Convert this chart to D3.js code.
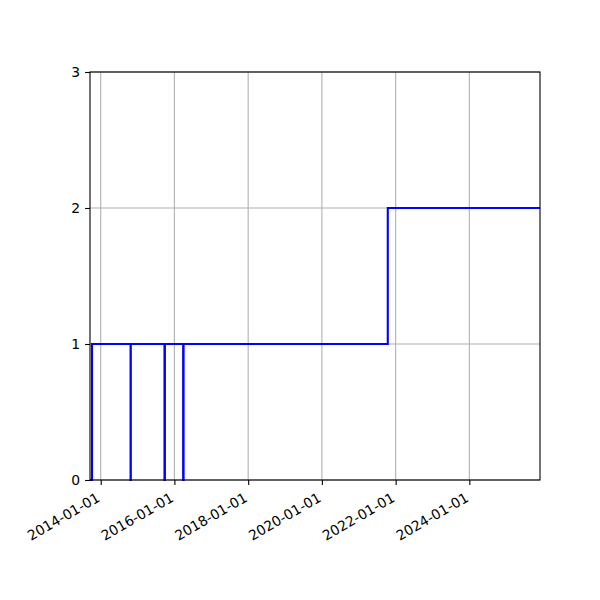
<!DOCTYPE html>
<html>
<head>
<meta charset="utf-8">
<script src="https://cdn.jsdelivr.net/npm/d3@7"></script>
<style>
  body { margin: 0; background: #fff; }
  text { font-family: "DejaVu Sans", sans-serif; }
</style>
</head>
<body>
<div id="chart"></div>
<script>
// step series (steps-post)
const dates = ['2013-09-17', '2013-10-07', '2014-10-24', '2014-10-26', '2015-09-25', '2015-09-29',
  '2016-03-28', '2016-04-01', '2021-10-15', '2025-12-01'];
const values = [0, 1, 0, 1, 0, 1, 0, 1, 2, 2];
const xTicks = ['2014-01-01', '2016-01-01', '2018-01-01', '2020-01-01', '2022-01-01', '2024-01-01'];
const yTicks = [0, 1, 2, 3];

const parse = d3.timeParse('%Y-%m-%d');
const data = dates.map((d, i) => ({ date: parse(d), value: values[i] }));

const margin = { top: 72, right: 60, bottom: 120, left: 90 };
const width = 600 - margin.left - margin.right;
const height = 600 - margin.top - margin.bottom;

const svg = d3.select('#chart')
  .append('svg')
  .attr('width', 600)
  .attr('height', 600)
  .append('g')
  .attr('transform', `translate(${margin.left}, ${margin.top})`);

const x = d3.scaleTime()
  .domain(d3.extent(data, (d) => d.date))
  .range([0, width]);

const y = d3.scaleLinear()
  .domain([0, 3])
  .range([height, 0]);

// grid
svg.append('g')
  .selectAll('line')
  .data(xTicks.map(parse))
  .join('line')
  .attr('x1', (d) => x(d)).attr('x2', (d) => x(d))
  .attr('y1', 0).attr('y2', height)
  .attr('stroke', '#b0b0b0').attr('stroke-width', 1.1);

svg.append('g')
  .selectAll('line')
  .data(yTicks)
  .join('line')
  .attr('x1', 0).attr('x2', width)
  .attr('y1', (d) => y(d)).attr('y2', (d) => y(d))
  .attr('stroke', '#b0b0b0').attr('stroke-width', 1.1);

// the step line
const line = d3.line()
  .curve(d3.curveStepAfter)
  .x((d) => x(d.date))
  .y((d) => y(d.value));

svg.append('path')
  .datum(data)
  .attr('d', line)
  .attr('fill', 'none')
  .attr('stroke', '#0000ff')
  .attr('stroke-width', 2.1);

// frame
svg.append('rect')
  .attr('width', width)
  .attr('height', height)
  .attr('fill', 'none')
  .attr('stroke', '#000')
  .attr('stroke-width', 1.1);

// axes
const xAxis = svg.append('g')
  .attr('transform', `translate(0, ${height})`)
  .call(d3.axisBottom(x)
    .tickValues(xTicks.map(parse))
    .tickSize(4.9)
    .tickFormat(d3.timeFormat('%Y-%m-%d')));

xAxis.select('.domain').remove();
xAxis.selectAll('line').attr('stroke-width', 1.1);
xAxis.selectAll('text')
  .attr('font-size', 13.9)
  .attr('fill', '#000')
  .attr('font-family', '"DejaVu Sans", sans-serif')
  .attr('text-anchor', 'end')
  .attr('dominant-baseline', 'hanging')
  .attr('x', 0).attr('y', 0).attr('dy', 0)
  .attr('transform', 'translate(-5.5, 11.5) rotate(-30)');

const yAxis = svg.append('g')
  .call(d3.axisLeft(y)
    .tickValues(yTicks)
    .tickSize(4.9)
    .tickPadding(4.9)
    .tickFormat(d3.format('d')));

yAxis.select('.domain').remove();
yAxis.selectAll('line').attr('stroke-width', 1.1);
yAxis.selectAll('text')
  .attr('font-size', 13.9)
  .attr('fill', '#000')
  .attr('font-family', '"DejaVu Sans", sans-serif');
</script>
</body>
</html>
